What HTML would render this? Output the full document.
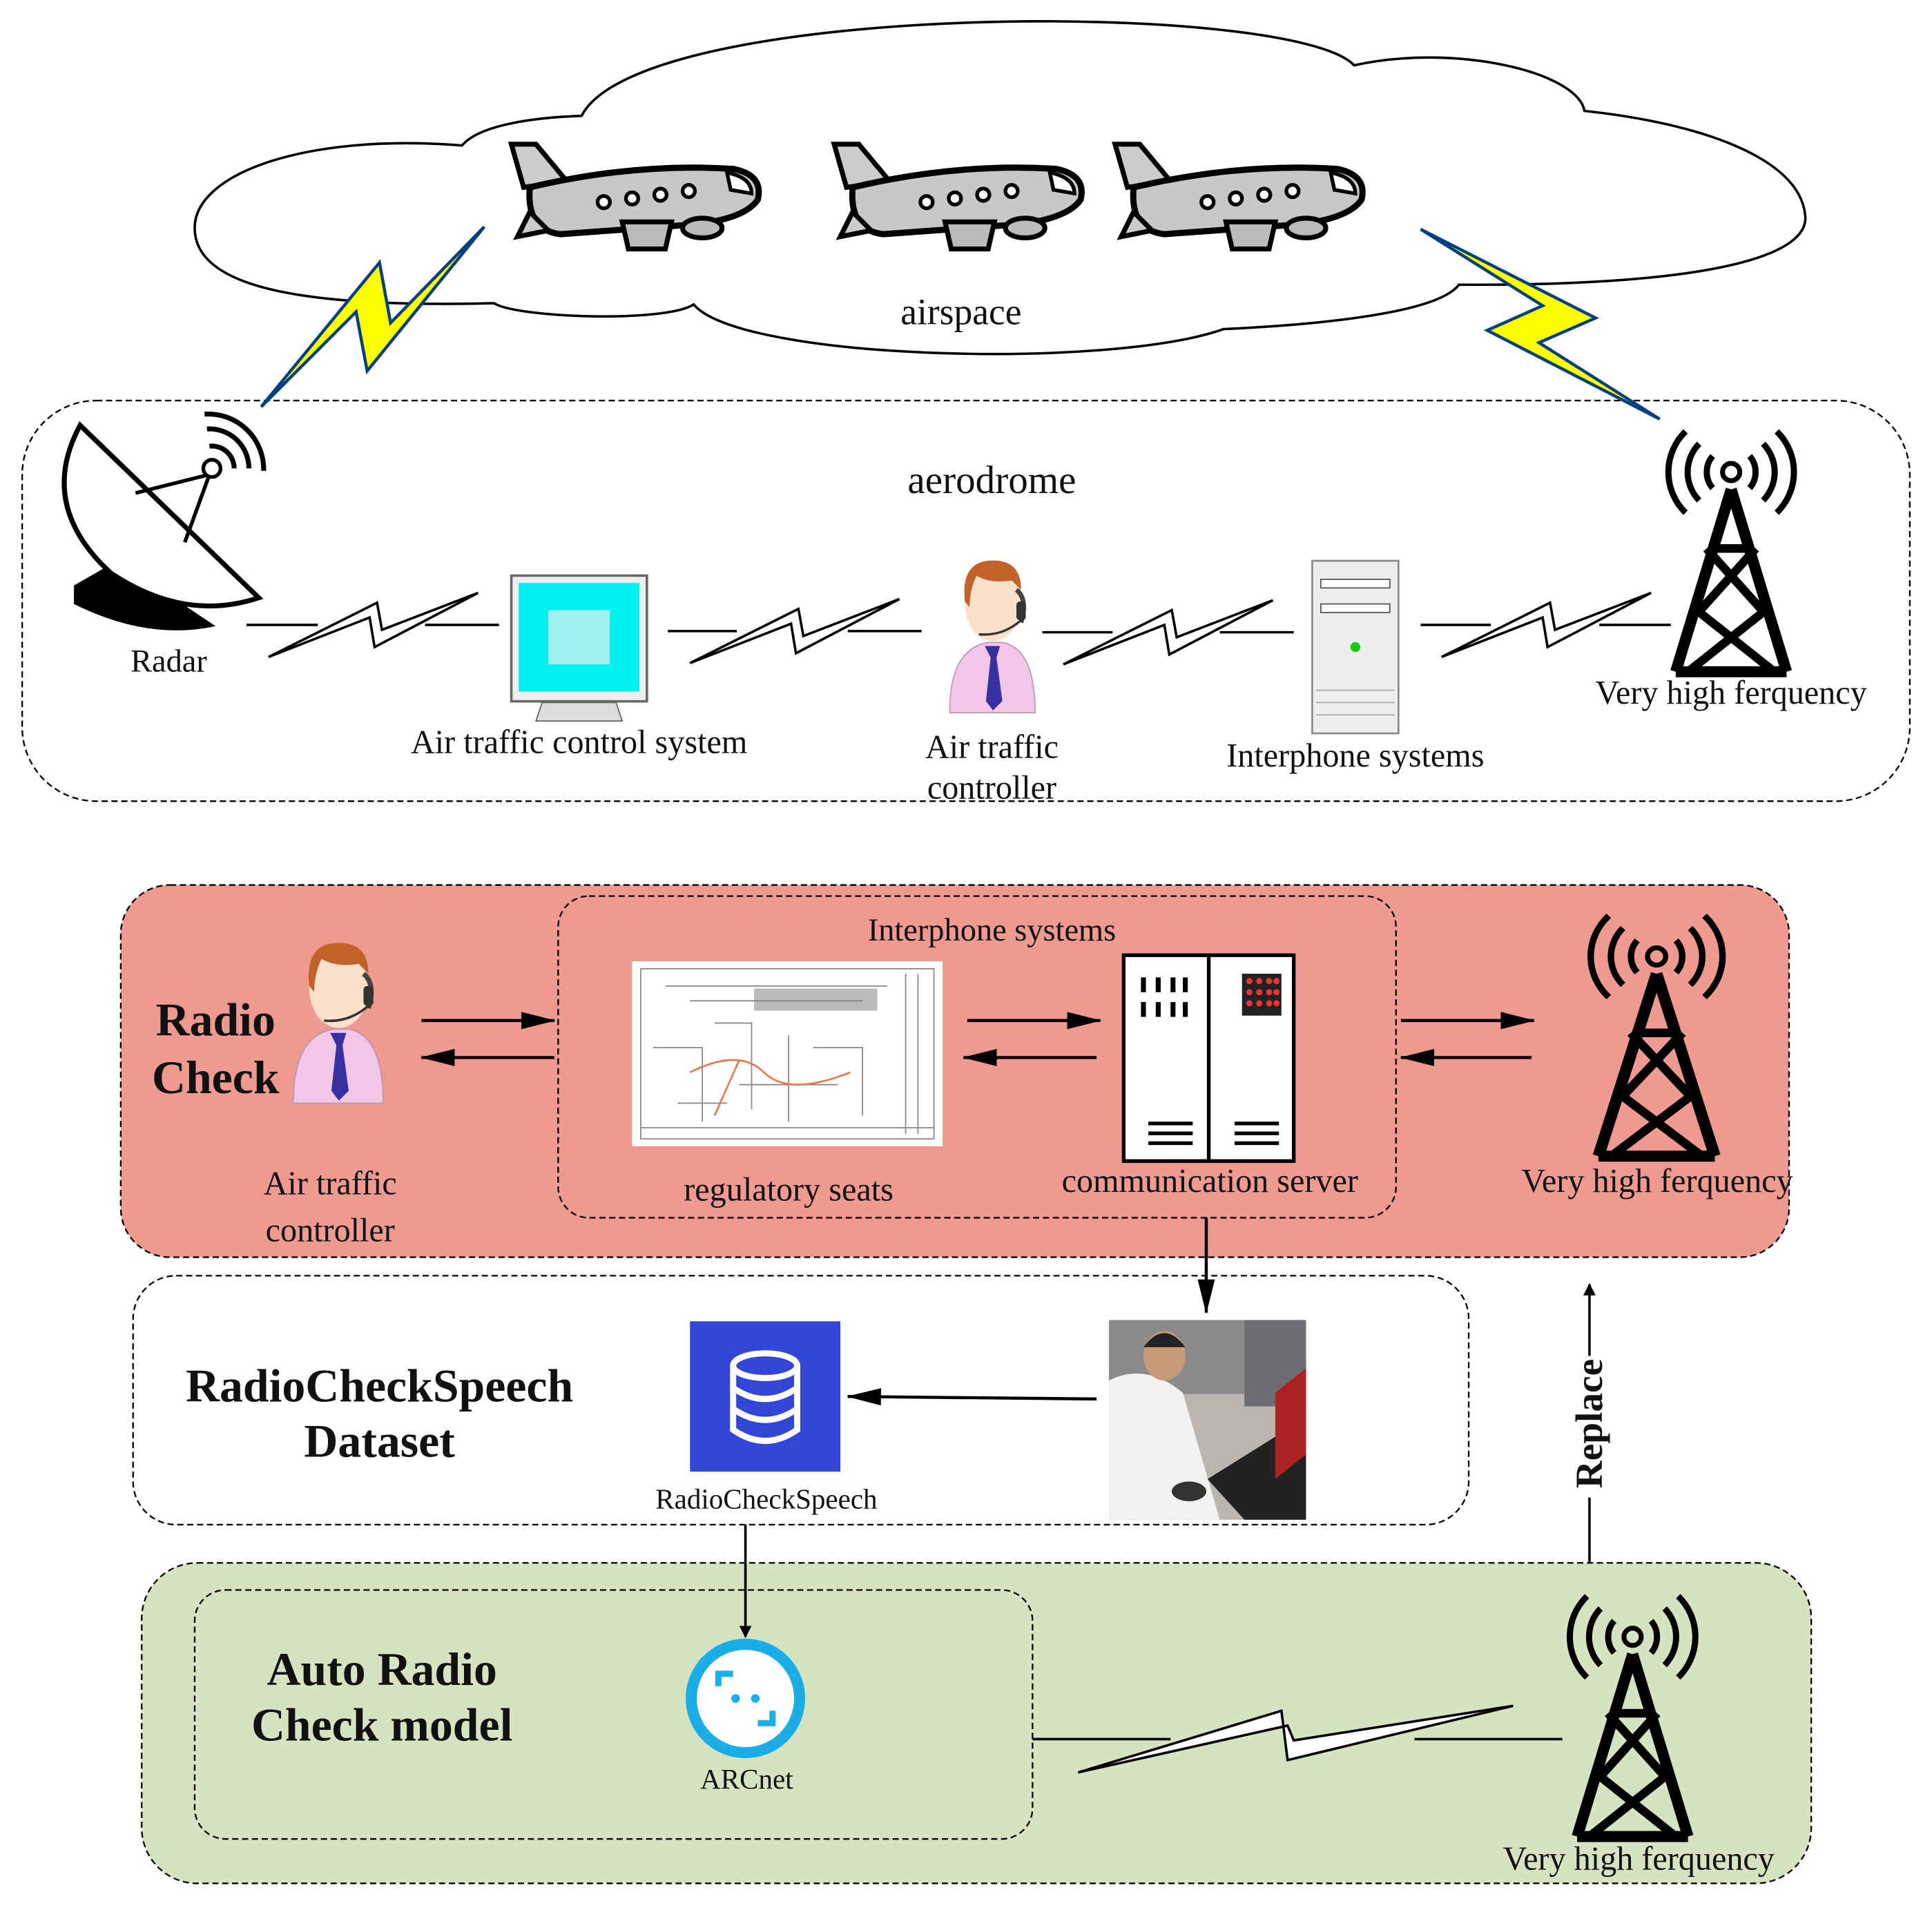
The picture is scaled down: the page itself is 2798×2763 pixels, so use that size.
<!DOCTYPE html>
<html><head><meta charset="utf-8"><style>
html,body{margin:0;padding:0;background:#fff;}
svg{display:block}
text{font-family:"Liberation Serif",serif;fill:#111}
</style></head><body>
<svg width="2798" height="2763" viewBox="0 0 1568 1548" preserveAspectRatio="none" xmlns="http://www.w3.org/2000/svg">
<defs>
 <marker id="ah" markerWidth="10" markerHeight="10" refX="9" refY="5" orient="auto" markerUnits="userSpaceOnUse"><path d="M0,0 L10,5 L0,10 z" fill="#000"/></marker>
 <marker id="ahb" markerWidth="28" markerHeight="14" refX="27" refY="7" orient="auto" markerUnits="userSpaceOnUse"><path d="M0,0 L28,7 L0,14 z" fill="#000"/></marker>
 <g id="bolt"><polygon points="0,52 82,20 86,44 170,0 92,30 88,8" fill="#fff" stroke="#000" stroke-width="2"/></g>
 <g id="tower">
  <g fill="none" stroke="#000" stroke-width="5">
   <circle cx="50" cy="38" r="7" stroke-width="4"/>
   <path d="M35,25 A20,20 0 0 0 35,51 M65,25 A20,20 0 0 1 65,51"/>
   <path d="M24,15 A33,33 0 0 0 24,61 M76,15 A33,33 0 0 1 76,61"/>
   <path d="M13,5 A46,46 0 0 0 13,71 M87,5 A46,46 0 0 1 87,71"/>
   <path d="M50,52 L5,200 M50,52 L95,200 M5,200 L95,200" stroke-width="9"/>
   <path d="M36,100 L64,100 M30,100 L75,150 M70,100 L25,150 M22,150 L85,200 M78,150 L15,200" stroke-width="7"/>
  </g>
 </g>
 <g id="person">
  <path d="M5,135 Q5,80 38,75 L50,75 Q78,80 78,135 Z" fill="#f2c6e6" stroke="#b9a" stroke-width="1"/>
  <path d="M35,78 L48,78 L45,88 L50,125 L42,133 L36,125 L40,88 Z" fill="#3a2fa0"/>
  <ellipse cx="42" cy="42" rx="24" ry="32" fill="#fbe0cc"/>
  <path d="M18,40 Q14,5 42,5 Q66,5 66,30 L58,22 Q40,25 28,18 Q22,30 22,45 Z" fill="#c0622a"/>
  <path d="M62,30 Q72,38 66,58" stroke="#444" stroke-width="4" fill="none"/>
  <rect x="62" y="40" width="8" height="16" rx="3" fill="#333"/>
  <path d="M66,56 Q50,70 30,68" stroke="#333" stroke-width="2" fill="none"/>
 </g>
 <g id="plane">
  <path d="M10,40 L0,5 L20,5 L45,35 Z" fill="#ccc" stroke="#000" stroke-width="4"/>
  <path d="M15,40 Q100,20 180,25 Q205,30 200,50 Q190,65 150,70 L40,78 Q12,75 15,40 Z" fill="#c8c8c8" stroke="#000" stroke-width="5"/>
  <path d="M175,28 Q195,32 195,45 L178,42 Z" fill="#fff" stroke="#000" stroke-width="3"/>
  <g fill="#fff" stroke="#000" stroke-width="3"><circle cx="75" cy="52" r="5"/><circle cx="98" cy="49" r="5"/><circle cx="121" cy="46" r="5"/><circle cx="144" cy="43" r="5"/></g>
  <path d="M90,68 L130,68 L125,90 L95,90 Z" fill="#bbb" stroke="#000" stroke-width="4"/>
  <ellipse cx="155" cy="73" rx="16" ry="8" fill="#bbb" stroke="#000" stroke-width="4"/>
  <path d="M15,60 L5,80 L30,75 Z" fill="#ccc" stroke="#000" stroke-width="4"/>
 </g>
 <g id="server2">
  <rect x="0" y="0" width="138" height="167" fill="#fff" stroke="#000" stroke-width="3"/>
  <line x1="69" y1="0" x2="69" y2="167" stroke="#000" stroke-width="3"/>
  <g fill="#000"><rect x="14" y="18" width="4" height="12"/><rect x="26" y="18" width="4" height="12"/><rect x="38" y="18" width="4" height="12"/><rect x="48" y="18" width="4" height="12"/><rect x="14" y="38" width="4" height="12"/><rect x="26" y="38" width="4" height="12"/><rect x="38" y="38" width="4" height="12"/><rect x="48" y="38" width="4" height="12"/>
  <rect x="20" y="135" width="36" height="3"/><rect x="20" y="143" width="36" height="3"/><rect x="20" y="151" width="36" height="3"/>
  <rect x="90" y="135" width="36" height="3"/><rect x="90" y="143" width="36" height="3"/><rect x="90" y="151" width="36" height="3"/></g>
  <rect x="96" y="15" width="32" height="34" fill="#222"/>
  <g fill="#e33"><circle cx="102" cy="21" r="2.5"/><circle cx="110" cy="21" r="2.5"/><circle cx="118" cy="21" r="2.5"/><circle cx="124" cy="21" r="2.5"/><circle cx="102" cy="30" r="2.5"/><circle cx="110" cy="30" r="2.5"/><circle cx="118" cy="30" r="2.5"/><circle cx="124" cy="30" r="2.5"/><circle cx="102" cy="39" r="2.5"/><circle cx="110" cy="39" r="2.5"/><circle cx="118" cy="39" r="2.5"/><circle cx="124" cy="39" r="2.5"/></g>
 </g>
</defs>

<!-- cloud -->
<path d="M375,118 C250,108 158,140 158,185 C158,232 240,250 401,246 C420,258 540,262 563,247 C600,292 900,300 993,267 C1100,262 1170,250 1184,231 C1400,232 1470,205 1465,174 C1460,128 1380,100 1286,90 C1280,58 1180,35 1099,53 C1050,0 520,0 472,94 C440,95 390,100 375,118 Z" fill="#fff" stroke="#000" stroke-width="2"/>
<use href="#plane" transform="translate(415,112)"/>
<use href="#plane" transform="translate(677,112)"/>
<use href="#plane" transform="translate(905,112)"/>
<text x="780" y="263" font-size="30" text-anchor="middle">airspace</text>

<!-- aerodrome -->
<rect x="18" y="325" width="1532" height="325" rx="60" fill="none" stroke="#000" stroke-width="1.3" stroke-dasharray="5,3"/>
<polygon points="212,330 308,213 317,262 393,184 298,301 289,253" fill="#ffff00" stroke="#004080" stroke-width="2.5" stroke-linejoin="miter"/>
<polygon points="1153,186 1295,258 1249,278 1347,340 1207,268 1252,248" fill="#ffff00" stroke="#004080" stroke-width="2.5"/>
<text x="805" y="400" font-size="32" text-anchor="middle">aerodrome</text>

<!-- radar -->
<g>
 <path d="M60,475 L95,455 L130,478 L175,508 Q120,520 60,490 Z" fill="#000"/>
 <path d="M65,345 Q30,410 90,465 Q150,505 210,485 Z" fill="#fff" stroke="#000" stroke-width="4"/>
 <path d="M110,400 L170,385 L150,440" stroke="#000" stroke-width="3" fill="none"/>
 <circle cx="172" cy="380" r="7" fill="#fff" stroke="#000" stroke-width="3"/>
 <path d="M170,362 A18,18 0 0 1 190,380 M168,348 A32,32 0 0 1 202,380 M166,336 A45,45 0 0 1 214,382" stroke="#000" stroke-width="4" fill="none"/>
</g>
<text x="137" y="545" font-size="26" text-anchor="middle">Radar</text>

<g stroke="#000" stroke-width="2">
 <line x1="200" y1="507" x2="258" y2="507"/><line x1="345" y1="507" x2="405" y2="507"/>
 <line x1="542" y1="512" x2="598" y2="512"/><line x1="688" y1="512" x2="748" y2="512"/>
 <line x1="846" y1="513" x2="903" y2="513"/><line x1="990" y1="513" x2="1050" y2="513"/>
 <line x1="1153" y1="507" x2="1210" y2="507"/><line x1="1298" y1="507" x2="1356" y2="507"/>
</g>
<use href="#bolt" transform="translate(218,481)"/>
<use href="#bolt" transform="translate(560,486)"/>
<use href="#bolt" transform="translate(863,487)"/>
<use href="#bolt" transform="translate(1170,481)"/>

<g>
 <rect x="415" y="467" width="110" height="102" fill="#eee" stroke="#666" stroke-width="2"/>
 <rect x="421" y="473" width="98" height="88" fill="#00f0f0"/>
 <rect x="445" y="495" width="50" height="44" fill="#c9f0f0" opacity="0.8"/>
 <path d="M440,570 L500,570 L505,585 L435,585 Z" fill="#ddd" stroke="#666"/>
</g>
<text x="470" y="611" font-size="27" text-anchor="middle">Air traffic control system</text>

<use href="#person" transform="translate(766,450) scale(0.95)"/>
<text x="805" y="615" font-size="27" text-anchor="middle">Air traffic</text>
<text x="805" y="648" font-size="27" text-anchor="middle">controller</text>

<g>
 <rect x="1065" y="455" width="70" height="140" fill="#eee" stroke="#888" stroke-width="1.5"/>
 <rect x="1072" y="470" width="56" height="7" fill="#fff" stroke="#555"/>
 <rect x="1072" y="490" width="56" height="7" fill="#fff" stroke="#555"/>
 <circle cx="1100" cy="525" r="4" fill="#1c1"/>
 <g stroke="#aaa"><line x1="1068" y1="560" x2="1132" y2="560"/><line x1="1068" y1="570" x2="1132" y2="570"/><line x1="1068" y1="580" x2="1132" y2="580"/></g>
</g>
<text x="1100" y="622" font-size="27" text-anchor="middle">Interphone systems</text>

<use href="#tower" transform="translate(1355,345)"/>
<text x="1405" y="571" font-size="27" text-anchor="middle">Very high ferquency</text>

<!-- Radio check section -->
<rect x="98" y="718" width="1354" height="302" rx="40" fill="#ee9a91" stroke="#000" stroke-width="1.3" stroke-dasharray="5,3"/>
<rect x="453" y="727" width="680" height="261" rx="25" fill="none" stroke="#000" stroke-width="1.3" stroke-dasharray="5,3"/>
<text x="175" y="840" font-size="38" font-weight="bold" text-anchor="middle">Radio</text>
<text x="175" y="887" font-size="38" font-weight="bold" text-anchor="middle">Check</text>
<use href="#person" transform="translate(233,760)"/>
<text x="268" y="969" font-size="27" text-anchor="middle">Air traffic</text>
<text x="268" y="1007" font-size="27" text-anchor="middle">controller</text>
<text x="805" y="763" font-size="26" text-anchor="middle">Interphone systems</text>

<g>
 <rect x="513" y="780" width="252" height="150" fill="#fff"/>
 <g stroke="#888" stroke-width="1" fill="none">
  <rect x="520" y="786" width="238" height="138"/>
  <path d="M540,800 L720,800 M560,812 L700,812 M580,830 L610,830 L610,900 M640,840 L640,910 M660,850 L700,850 L700,905 M530,850 L570,850 L570,910 M600,880 L680,880 M520,915 L758,915 M735,790 L735,920 M745,790 L745,920 M550,895 L590,895"/>
 </g>
 <path d="M560,870 Q600,850 620,870 T690,870 M580,905 L600,860" stroke="#e07a50" stroke-width="1.5" fill="none"/>
 <rect x="612" y="802" width="100" height="18" fill="#777" opacity="0.5"/>
</g>
<text x="640" y="974" font-size="27" text-anchor="middle">regulatory seats</text>
<use href="#server2" transform="translate(912,775)"/>
<text x="982" y="967" font-size="27" text-anchor="middle">communication server</text>
<use href="#tower" transform="translate(1292,738) scale(1.05,1)"/>
<text x="1345" y="967" font-size="27" text-anchor="middle">Very high ferquency</text>

<g stroke="#000" stroke-width="2.5">
 <line x1="342" y1="828" x2="450" y2="828" marker-end="url(#ahb)"/>
 <line x1="450" y1="858" x2="342" y2="858" marker-end="url(#ahb)"/>
 <line x1="785" y1="828" x2="893" y2="828" marker-end="url(#ahb)"/>
 <line x1="890" y1="858" x2="782" y2="858" marker-end="url(#ahb)"/>
 <line x1="1137" y1="828" x2="1245" y2="828" marker-end="url(#ahb)"/>
 <line x1="1243" y1="858" x2="1137" y2="858" marker-end="url(#ahb)"/>
 <line x1="979" y1="988" x2="979" y2="1065" marker-end="url(#ahb)"/>
</g>

<!-- dataset -->
<rect x="108" y="1035" width="1084" height="202" rx="35" fill="none" stroke="#000" stroke-width="1.3" stroke-dasharray="5,3"/>
<text x="308" y="1137" font-size="38" font-weight="bold" text-anchor="middle">RadioCheckSpeech</text>
<text x="308" y="1182" font-size="38" font-weight="bold" text-anchor="middle">Dataset</text>
<rect x="560" y="1072" width="122" height="122" fill="#3145d6"/>
<g fill="none" stroke="#fff" stroke-width="5">
 <ellipse cx="621" cy="1108" rx="26" ry="10"/>
 <path d="M595,1108 L595,1160 Q621,1178 647,1160 L647,1108 M595,1126 Q621,1144 647,1126 M595,1143 Q621,1161 647,1143"/>
</g>
<text x="622" y="1224" font-size="23" text-anchor="middle">RadioCheckSpeech</text>
<g>
 <rect x="900" y="1071" width="160" height="162" fill="#b9b6b0"/>
 <rect x="900" y="1071" width="160" height="60" fill="#8a8a88"/>
 <rect x="1010" y="1071" width="50" height="70" fill="#6d6e72"/>
 <path d="M900,1233 L900,1120 Q930,1105 960,1130 L990,1233 Z" fill="#f2f2f0"/>
 <ellipse cx="945" cy="1100" rx="17" ry="20" fill="#c99a7a"/>
 <path d="M928,1093 Q945,1070 962,1093" fill="#222"/>
 <path d="M980,1200 L1060,1150 L1060,1233 L1010,1233 Z" fill="#222"/>
 <path d="M1035,1130 L1060,1110 L1060,1180 L1035,1200 Z" fill="#a22"/>
 <ellipse cx="965" cy="1210" rx="14" ry="8" fill="#333"/>
</g>
<line x1="890" y1="1135" x2="688" y2="1133" stroke="#000" stroke-width="2.5" marker-end="url(#ahb)"/>

<!-- auto radio check -->
<rect x="115" y="1268" width="1355" height="260" rx="45" fill="#d5e3c0" stroke="#000" stroke-width="1.3" stroke-dasharray="5,3"/>
<rect x="158" y="1290" width="680" height="202" rx="25" fill="none" stroke="#000" stroke-width="1.3" stroke-dasharray="5,3"/>
<line x1="605" y1="1237" x2="605" y2="1328" stroke="#000" stroke-width="2" marker-end="url(#ah)"/>
<text x="310" y="1367" font-size="38" font-weight="bold" text-anchor="middle">Auto Radio</text>
<text x="310" y="1412" font-size="38" font-weight="bold" text-anchor="middle">Check model</text>
<circle cx="605" cy="1378" r="44" fill="#fff" stroke="#1baee6" stroke-width="9"/>
<path d="M583,1368 L583,1358 L595,1358 M627,1388 L627,1398 L615,1398" stroke="#1baee6" stroke-width="5" fill="none"/>
<circle cx="597" cy="1378" r="3.5" fill="#1baee6"/><circle cx="613" cy="1378" r="3.5" fill="#1baee6"/>
<text x="606" y="1451" font-size="23" text-anchor="middle">ARCnet</text>
<g stroke="#000" stroke-width="2"><line x1="838" y1="1411" x2="950" y2="1411"/><line x1="1148" y1="1411" x2="1268" y2="1411"/></g>
<polygon points="875,1438 1040,1388 1045,1428 1228,1384 1050,1412 1045,1400" fill="#fff" stroke="#000" stroke-width="2"/>
<use href="#tower" transform="translate(1275,1290)"/>
<text x="1330" y="1517" font-size="27" text-anchor="middle">Very high ferquency</text>

<line x1="1290" y1="1268" x2="1290" y2="1042" stroke="#000" stroke-width="2" marker-end="url(#ah)"/>
<rect x="1276" y="1100" width="28" height="115" fill="#fff"/>
<text x="0" y="0" font-size="31" font-weight="bold" text-anchor="middle" transform="translate(1300,1155) rotate(-90)">Replace</text>
</svg>
</body></html>
